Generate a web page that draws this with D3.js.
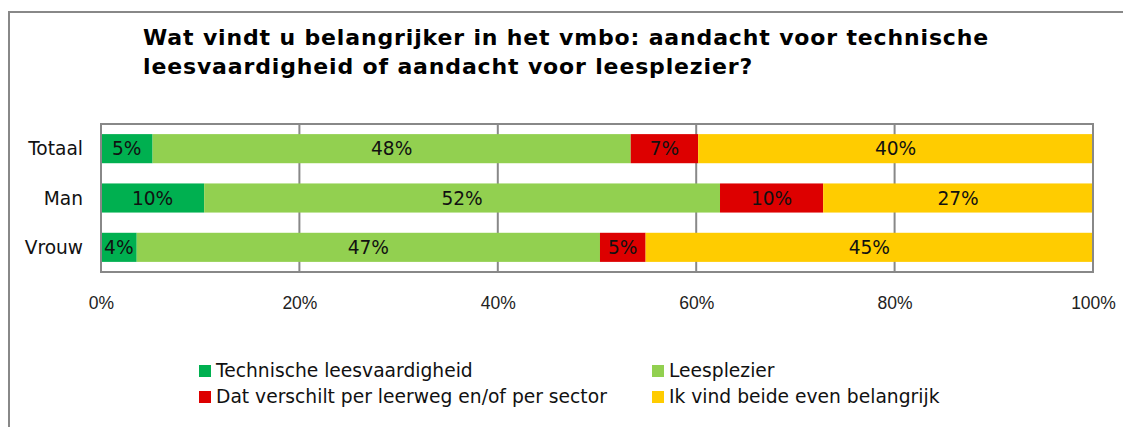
<!DOCTYPE html>
<html>
<head>
<meta charset="utf-8">
<script src="https://cdn.jsdelivr.net/npm/d3@7"></script>
<style>
  html, body { margin: 0; padding: 0; background: #fff; }
  svg { display: block; }
</style>
</head>
<body>
<svg id="chart" width="1123" height="427"></svg>
<script>
const titleLines = ["Wat vindt u belangrijker in het vmbo: aandacht voor technische", "leesvaardigheid of aandacht voor leesplezier?"];
const categories = ["Totaal", "Man", "Vrouw"];
const seriesNames = ["Technische leesvaardigheid", "Leesplezier", "Dat verschilt per leerweg en/of per sector", "Ik vind beide even belangrijk"];
const seriesColors = ["#00B050", "#92D050", "#DD0000", "#FFCC00"];
const technisch = [5.2, 10.4, 3.6];
const leesplezier = [48.2, 52.0, 46.7];
const verschilt = [6.8, 10.4, 4.6];
const beide = [39.8, 27.2, 45.1];
const tickValues = [0, 0.2, 0.4, 0.6, 0.8, 1.0];

const seriesValues = [technisch, leesplezier, verschilt, beide];
const rows = categories.map((c, i) => {
  const r = { cat: c };
  seriesNames.forEach((s, j) => r[s] = seriesValues[j][i]);
  return r;
});

const svg = d3.select("#chart");
const W = 1123, H = 427;
const plot = { left: 101, right: 1093, top: 124, bottom: 272 };
const FONT = "DejaVu Sans, Verdana, sans-serif";

// outer frame
svg.append("rect").attr("x", 9).attr("y", 12).attr("width", W + 20).attr("height", H + 20)
  .attr("fill", "#fff").attr("stroke", "#888").attr("stroke-width", 2);

// title
const title = svg.append("text").attr("font-family", FONT)
  .attr("font-weight", "bold").attr("font-size", 22).attr("letter-spacing", 0.85).attr("fill", "#000");
titleLines.forEach((t, i) => title.append("tspan").attr("x", 143).attr("y", 45 + i * 28.5).text(t));

const x = d3.scaleLinear().domain([0, 1]).range([plot.left, plot.right]);
const y = d3.scaleBand().domain(categories).range([plot.top, plot.bottom]).paddingInner(0.41).paddingOuter(0.205);

const stack = d3.stack().keys(seriesNames).offset(d3.stackOffsetExpand);
const stacked = stack(rows);

// gridlines
svg.append("g").selectAll("line").data(tickValues.slice(1, -1)).join("line")
  .attr("x1", d => x(d)).attr("x2", d => x(d))
  .attr("y1", plot.top).attr("y2", plot.bottom)
  .attr("stroke", "#888").attr("stroke-width", 2);

// bars
const groups = svg.append("g").selectAll("g").data(stacked).join("g")
  .attr("fill", (d, i) => seriesColors[i]);
groups.selectAll("rect").data(d => d).join("rect")
  .attr("x", d => x(d[0])).attr("width", d => x(d[1]) - x(d[0]))
  .attr("y", d => y(d.data.cat)).attr("height", y.bandwidth());

// data labels
const lbl = svg.append("g").attr("font-family", FONT).attr("font-size", 18.6).attr("fill", "#111");
stacked.forEach((s, i) => {
  lbl.selectAll(null).data(s).join("text")
    .attr("x", d => (x(d[0]) + x(d[1])) / 2)
    .attr("y", d => y(d.data.cat) + y.bandwidth() / 2 + 6.5)
    .attr("text-anchor", "middle")
    .text(d => Math.round(d.data[s.key]) + "%");
});

// plot border
svg.append("rect").attr("x", plot.left).attr("y", plot.top)
  .attr("width", plot.right - plot.left).attr("height", plot.bottom - plot.top)
  .attr("fill", "none").attr("stroke", "#888").attr("stroke-width", 2);

// category axis
const yAxis = svg.append("g").attr("transform", `translate(${plot.left},0)`)
  .call(d3.axisLeft(y).tickSize(0).tickPadding(18));
yAxis.select(".domain").remove();
yAxis.selectAll("text").attr("font-family", FONT).attr("font-size", 18.6).attr("fill", "#111").attr("dy", "0.36em");

// value axis
const xAxis = svg.append("g").attr("transform", `translate(0,${plot.bottom})`)
  .call(d3.axisBottom(x).tickValues(tickValues).tickFormat(d3.format(".0%")).tickSize(0).tickPadding(25));
xAxis.select(".domain").remove();
xAxis.selectAll("text").attr("font-family", "Liberation Sans, Arial, sans-serif").attr("font-size", 17.5).attr("fill", "#222");

// legend
const legPos = [[199, 365], [652, 365], [199, 391], [652, 391]];
const leg = svg.append("g").attr("font-family", FONT).attr("font-size", 18.7).attr("fill", "#111");
seriesNames.forEach((s, i) => {
  const [lx, ly] = legPos[i];
  leg.append("rect").attr("x", lx).attr("y", ly).attr("width", 12).attr("height", 12).attr("fill", seriesColors[i]);
  leg.append("text").attr("x", lx + 17).attr("y", ly + 12).text(s);
});
</script>
</body>
</html>
